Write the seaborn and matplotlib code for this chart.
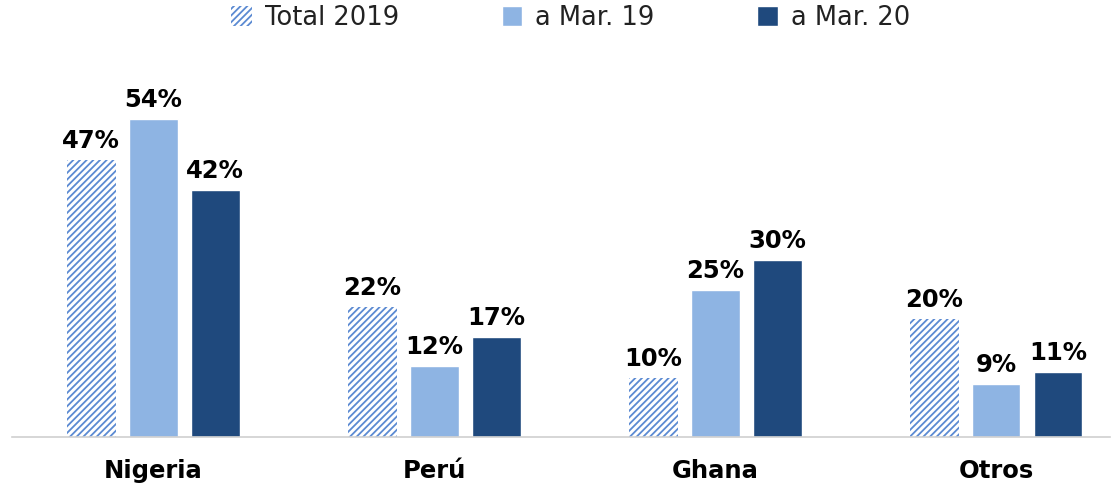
import pandas as pd
import matplotlib.pyplot as plt
import seaborn as sns
from matplotlib.patches import Patch

# Values (percent)
paises = ['Nigeria', 'Perú', 'Ghana', 'Otros']
series = ['Total 2019', 'a Mar. 19', 'a Mar. 20']
total_2019 = [47, 22, 10, 20]
mar_19 = [54, 12, 25, 9]
mar_20 = [42, 17, 30, 11]

colores = ['#FFFFFF', '#8EB4E3', '#1F497D']
hatch_color = '#5B8AD2'

df = pd.DataFrame({
    'pais': paises * 3,
    'serie': [s for s in series for _ in paises],
    'valor': total_2019 + mar_19 + mar_20,
})

sns.set_style('white')
plt.rcParams['font.family'] = ['DejaVu Sans']
plt.rcParams['hatch.linewidth'] = 1.3
plt.rcParams['hatch.color'] = hatch_color

fig = plt.figure(figsize=(11.19, 4.86), dpi=100)
ax = fig.add_axes([0.011, 0.101, 0.981, 0.78])

sns.barplot(data=df, x='pais', y='valor', hue='serie', order=paises,
            hue_order=series, palette=colores, width=0.662, gap=0.21,
            saturation=1, ax=ax, legend=False)

# the Total 2019 bars are hatched, not filled
n = len(paises)
for i, bar in enumerate(ax.patches):
    if i < n:
        bar.set_facecolor('white')
        bar.set_edgecolor(hatch_color)
        bar.set_linewidth(0)
        bar.set_hatch('/////')

for cont in ax.containers:
    ax.bar_label(cont, fmt='%d%%', padding=5, fontsize=17.5,
                 fontweight='bold', color='black')

ax.set_xlim(-0.502, 3.406)
ax.set_ylim(0, 64.4)
ax.set_xlabel('')
ax.set_ylabel('')
ax.set_yticks([])
ax.tick_params(axis='x', length=0, pad=16, colors='black')
for lbl in ax.get_xticklabels():
    lbl.set_fontsize(17.5)
    lbl.set_fontweight('bold')
for side in ['left', 'right', 'top']:
    ax.spines[side].set_visible(False)
ax.spines['bottom'].set_color('#D0D0D0')
ax.spines['bottom'].set_linewidth(1.2)

handles = [
    Patch(facecolor='white', edgecolor=hatch_color, hatch='/////', linewidth=0),
    Patch(facecolor=colores[1]),
    Patch(facecolor=colores[2]),
]
fig.legend(handles, series, loc='center', bbox_to_anchor=(0.51, 0.963),
           ncol=3, frameon=False, handlelength=0.8, handleheight=0.8,
           columnspacing=4.0, handletextpad=0.5, labelcolor='#222222',
           prop={'family': 'DejaVu Sans', 'size': 18.5})

fig.savefig('out.png', dpi=100)
